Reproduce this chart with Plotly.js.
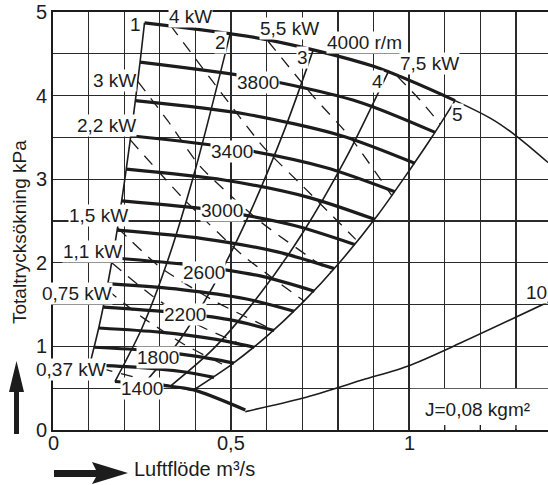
<!DOCTYPE html>
<html><head><meta charset="utf-8">
<script src="https://cdn.plot.ly/plotly-3.0.1.min.js"></script>
<style>html,body{margin:0;padding:0;background:#fff}#chart{width:548px;height:485px}</style>
</head><body><div id="chart"></div>
<script>
// Fan speed curves (r/min): air flow m3/s vs total pressure rise kPa
const speedRpm = [4000,3800,3600,3400,3200,3000,2800,2600,2400,2200,2000,1800,1600,1400];
const speedFlow = [
  [0.257,0.600,0.900,1.129],
  [0.244,0.570,0.855,1.073],
  [0.231,0.540,0.810,1.016],
  [0.218,0.510,0.765,0.960],
  [0.206,0.480,0.720,0.903],
  [0.193,0.450,0.675,0.847],
  [0.180,0.420,0.630,0.790],
  [0.167,0.390,0.585,0.734],
  [0.154,0.360,0.540,0.677],
  [0.141,0.330,0.495,0.621],
  [0.129,0.300,0.450,0.565],
  [0.116,0.270,0.405,0.508],
  [0.103,0.240,0.360,0.452],
  [0.174,0.210,0.315,0.395,0.540]
];
const speedPressure = [
  [4.87,4.67,4.35,3.94],
  [4.40,4.21,3.93,3.56],
  [3.94,3.78,3.52,3.19],
  [3.52,3.37,3.14,2.85],
  [3.12,2.99,2.78,2.52],
  [2.74,2.63,2.45,2.22],
  [2.39,2.29,2.13,1.93],
  [2.06,1.97,1.84,1.66],
  [1.75,1.68,1.57,1.42],
  [1.47,1.41,1.32,1.19],
  [1.22,1.17,1.09,0.99],
  [0.99,0.95,0.88,0.80],
  [0.78,0.75,0.70,0.63],
  [0.58,0.57,0.53,0.48,0.24]
];
// 4000 r/min curve beyond line 5
const max4000Flow = [1.129,1.236,1.303,1.39];
const max4000Pressure = [3.94,3.71,3.51,3.20];

// System (operating) lines 1..5 and 10
const sysNames = ['1','2','3','4','5','10'];
const sysFlow = [
  [0.103,0.130,0.160,0.185,0.205,0.225,0.245,0.257],
  [0.174,0.250,0.320,0.400,0.498],
  [0.256,0.350,0.450,0.550,0.650,0.731],
  [0.330,0.450,0.580,0.700,0.820,0.942],
  [0.395,0.500,0.600,0.700,0.806,0.910,1.003,1.065,1.129],
  [0.540,0.700,0.870,1.000,1.144,1.390]
];
const sysPressure = [
  [0.78,1.25,1.89,2.52,3.10,3.73,4.42,4.87],
  [0.58,1.22,2.00,3.12,4.75],
  [0.557,1.04,1.72,2.57,3.59,4.55],
  [0.526,0.97,1.62,2.35,3.23,4.29],
  [0.48,0.78,1.12,1.52,2.01,2.56,3.12,3.51,3.94],
  [0.22,0.38,0.60,0.77,1.04,1.53]
];

// Constant shaft power lines (dashed)
const powerNames = ['7,5 kW','5,5 kW','4 kW','3 kW','2,2 kW','1,5 kW','1,1 kW','0,75 kW','0,37 kW'];
const powerFlow = [
  [0.967,1.030,1.087],
  [0.604,0.731,0.835,0.952],
  [0.330,0.450,0.590,0.703,0.850],
  [0.238,0.322,0.414,0.580,0.780],
  [0.217,0.370,0.530,0.706],
  [0.181,0.300,0.450,0.621],
  [0.165,0.280,0.410,0.560],
  [0.151,0.250,0.370,0.493],
  [0.133,0.260,0.390]
];
const powerPressure = [
  [4.23,3.95,3.66],
  [4.65,3.99,3.50,2.80],
  [4.84,4.16,3.39,2.91,2.28],
  [4.17,3.70,3.15,2.50,1.89],
  [3.47,2.75,2.10,1.54],
  [2.42,1.95,1.55,1.19],
  [2.00,1.60,1.25,0.97],
  [1.68,1.35,1.02,0.75],
  [0.74,0.60,0.47]
];

// Text labels on the chart
const labelText = ['1','2','3','4','5','10','4 kW','5,5 kW','4000 r/m','7,5 kW','3 kW','3800','2,2 kW','3400','3000','1,5 kW','1,1 kW','2600','0,75 kW','2200','1800','0,37 kW','1400','J=0,08 kgm²'];
const labelX = [0.231,0.469,0.700,0.910,1.135,1.359,0.385,0.663,0.874,1.056,0.172,0.577,0.150,0.503,0.475,0.127,0.110,0.425,0.068,0.371,0.296,0.051,0.250,1.191];
const labelY = [4.85,4.63,4.45,4.17,3.77,1.64,4.95,4.80,4.63,4.38,4.18,4.16,3.64,3.33,2.62,2.57,2.14,1.89,1.63,1.38,0.87,0.72,0.50,0.24];

const xTickVals = [0,0.5,1];
const xTickText = ['0','0,5','1'];
const yTickVals = [0,1,2,3,4,5];
const yTickText = ['0','1','2','3','4','5'];

const INK = '#1c1c1c';
const traces = [];
speedRpm.forEach((n,i)=>{
  traces.push({type:'scatter',mode:'lines',x:speedFlow[i],y:speedPressure[i],name:n+' r/m',
    line:{color:INK,width:3.2,shape:'spline',smoothing:0.8},hoverinfo:'skip'});
});
traces.push({type:'scatter',mode:'lines',x:max4000Flow,y:max4000Pressure,
  line:{color:INK,width:1.6,shape:'spline'},hoverinfo:'skip'});
sysNames.forEach((s,i)=>{
  traces.push({type:'scatter',mode:'lines',x:sysFlow[i],y:sysPressure[i],name:s,
    line:{color:INK,width:1.6,shape:'spline',smoothing:0.8},hoverinfo:'skip'});
});
powerNames.forEach((s,i)=>{
  traces.push({type:'scatter',mode:'lines',x:powerFlow[i],y:powerPressure[i],name:s,
    line:{color:INK,width:1.3,dash:'12px,9px',shape:'spline',smoothing:0.6},hoverinfo:'skip'});
});

// pixel -> paper helpers for decorations outside the plot area
const L=53, T=12, W=495, H=418;
const px = v => (v-L)/W, py = v => (T+H-v)/H;
function pathPx(pts){return 'M'+pts.map(p=>px(p[0])+','+py(p[1])).join(' L')+' Z';}

const annotations = labelText.map((t,i)=>({x:labelX[i],y:labelY[i],xref:'x',yref:'y',text:t,showarrow:false,
  xanchor:'center',yanchor:'middle',bgcolor: t.startsWith('J=')?'rgba(0,0,0,0)':'#ffffff',borderpad:0,
  font:{size:19,color:INK}}));
// x tick labels (placed a little closer to the axis than Plotly's default)
xTickVals.forEach((v,i)=>annotations.push({x:v,xref:'x',yref:'paper',y:py(443),text:xTickText[i],showarrow:false,
  xanchor:'center',yanchor:'middle',font:{size:20,color:INK}}));
annotations.push({xref:'paper',yref:'paper',x:px(19),y:py(232),text:'Totaltrycksökning kPa',textangle:-90,
  showarrow:false,xanchor:'center',yanchor:'middle',font:{size:19,color:INK}});
annotations.push({xref:'paper',yref:'paper',x:px(132),y:py(469),text:'Luftflöde m³/s',
  showarrow:false,xanchor:'left',yanchor:'middle',font:{size:20,color:INK}});

const shapes = [
  {type:'rect',xref:'x',yref:'y',x0:1.004,x1:1.39,y0:0.01,y1:0.493,fillcolor:'#fff',line:{width:0},layer:'between'},
  {type:'line',xref:'x',yref:'y',x0:1.1,x1:1.1,y0:0,y1:0.06,line:{color:INK,width:1.3}},
  {type:'line',xref:'x',yref:'y',x0:1.2,x1:1.2,y0:0,y1:0.06,line:{color:INK,width:1.3}},
  {type:'line',xref:'x',yref:'y',x0:1.3,x1:1.3,y0:0,y1:0.06,line:{color:INK,width:1.3}},
  // up arrow (y axis)
  {type:'path',xref:'paper',yref:'paper',path:pathPx([[14,434],[19,434],[19,392],[24,392],[16.5,361],[9,392],[14,392]]),fillcolor:INK,line:{width:0}},
  // right arrow (x axis)
  {type:'path',xref:'paper',yref:'paper',path:pathPx([[54,470],[96,470],[92,462],[128,473],[92,484],[96,477],[54,477]]),fillcolor:INK,line:{width:0}}
];

const gridStyle = {color:'#2a2a2a',width:1.3};
const layout = {
  width:548,height:485,margin:{l:53,r:0,t:12,b:55},
  paper_bgcolor:'#fff',plot_bgcolor:'#fff',showlegend:false,
  font:{family:'"Liberation Sans", Arial, sans-serif',size:19,color:INK},
  xaxis:{range:[0,1.39],tickvals:xTickVals,ticktext:xTickText,showticklabels:false,showgrid:true,gridcolor:gridStyle.color,gridwidth:gridStyle.width,
    minor:{dtick:0.1,tick0:0,showgrid:true,gridcolor:gridStyle.color,gridwidth:gridStyle.width},
    zeroline:false,showline:true,linecolor:INK,linewidth:2,mirror:true,ticks:'',fixedrange:true},
  yaxis:{range:[0,5],tickvals:yTickVals,ticktext:yTickText,showgrid:true,gridcolor:gridStyle.color,gridwidth:gridStyle.width,
    minor:{dtick:0.5,tick0:0,showgrid:true,gridcolor:gridStyle.color,gridwidth:gridStyle.width},
    zeroline:false,showline:true,linecolor:INK,linewidth:2,ticks:'',tickfont:{size:20},fixedrange:true},
  annotations:annotations,shapes:shapes
};
Plotly.newPlot('chart',traces,layout,{staticPlot:true,displayModeBar:false});
</script></body></html>
